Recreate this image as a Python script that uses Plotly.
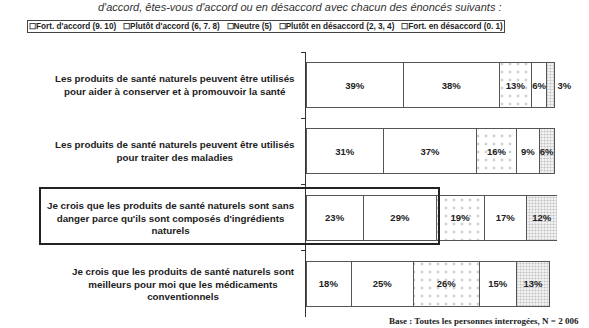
import plotly.graph_objects as go

categories = [
    "Les produits de santé naturels peuvent être utilisés<br>pour aider à conserver et à promouvoir la santé",
    "Les produits de santé naturels peuvent être utilisés<br>pour traiter des maladies",
    "Je crois que les produits de santé naturels sont sans<br>danger parce qu'ils sont composés d'ingrédients<br>naturels",
    "Je crois que les produits de santé naturels sont<br>meilleurs pour moi que les médicaments<br>conventionnels",
]
cat_ids = ["c1", "c2", "c3", "c4"]
series_names = [
    "Fort. d'accord (9. 10)",
    "Plutôt d'accord (6, 7. 8)",
    "Neutre (5)",
    "Plutôt en désaccord (2, 3, 4)",
    "Fort. en désaccord (0. 1)",
]
fort_accord = [39, 31, 23, 18]
plutot_accord = [38, 37, 29, 25]
neutre = [13, 16, 19, 26]
plutot_desaccord = [6, 9, 17, 15]
fort_desaccord = [3, 6, 12, 13]
series_values = [fort_accord, plutot_accord, neutre, plutot_desaccord, fort_desaccord]

patterns = [
    dict(shape=""),
    dict(shape=""),
    dict(shape=".", fgcolor="#a0a0a0", bgcolor="white", size=8, solidity=0.1),
    dict(shape=""),
    dict(shape=".", fgcolor="#8a8a8a", bgcolor="#f6f6f6", size=3, solidity=0.4),
]

W, H = 589, 328
x0px, x100px = 306, 557
ytop, ybot = 52, 317
FONT = "Liberation Sans, Arial"

fig = go.Figure()
for i, (name, vals, pat) in enumerate(zip(series_names, series_values, patterns)):
    if i == len(series_names) - 1:
        tpos = ["outside" if v < 5 else "inside" for v in vals]
    else:
        tpos = "inside"
    fig.add_trace(go.Bar(
        y=cat_ids, x=vals, orientation="h", name=name,
        marker=dict(color="white", line=dict(color="#555555", width=1), pattern=pat),
        text=[f"<b>{v}%</b>" for v in vals], textposition=tpos,
        insidetextanchor="middle", textangle=0, cliponaxis=False,
        textfont=dict(family=FONT, size=9.5, color="#222222"),
        showlegend=False,
    ))

fig.update_layout(
    width=W, height=H, barmode="stack", bargap=0.32,
    margin=dict(l=0, r=0, t=0, b=0),
    paper_bgcolor="white", plot_bgcolor="white",
    uniformtext=dict(minsize=9.5, mode="show"),
    xaxis=dict(domain=[x0px / W, x100px / W], range=[0, 100], visible=False),
    yaxis=dict(domain=[1 - ybot / H, 1 - ytop / H], range=[3.5, -0.5],
               categoryorder="array", categoryarray=cat_ids,
               showticklabels=False, ticks="outside", tickson="boundaries",
               ticklen=4, tickcolor="#333", showline=True, linecolor="#333",
               linewidth=1, showgrid=False, zeroline=False),
)

# category labels
for cid, lab in zip(cat_ids, categories):
    fig.add_annotation(x=297 / W, xref="paper", xanchor="right", y=cid, yref="y",
                       text=f"<b>{lab}</b>", showarrow=False, align="center",
                       font=dict(family=FONT, size=9.8, color="#222"))

# boxed highlight around third statement
fig.add_shape(type="rect", xref="paper", yref="paper",
              x0=40 / W, x1=439 / W, y0=1 - 244 / H, y1=1 - 188 / H,
              line=dict(color="#222", width=2), fillcolor="rgba(0,0,0,0)")

# legend as boxed text
gap = "\u00a0" * 3
legend_text = gap.join("\u2610" + n for n in series_names)
fig.add_annotation(x=27 / W, xref="paper", xanchor="left", y=1 - 26.5 / H, yref="paper",
                   yanchor="middle", text=f"<b>{legend_text}</b>", showarrow=False,
                   font=dict(family=FONT, size=8.2, color="#222"),
                   bordercolor="#444", borderwidth=1, borderpad=1, bgcolor="white")

# question text at top
fig.add_annotation(x=300 / W, xref="paper", xanchor="center", y=1 - 7 / H, yref="paper",
                   yanchor="middle",
                   text="<i>d'accord, êtes-vous d'accord ou en désaccord avec chacun des énoncés suivants :</i>",
                   showarrow=False, font=dict(family=FONT, size=11, color="#333"))

# base note bottom right
fig.add_annotation(x=387 / W, xref="paper", xanchor="left", y=1 - 321 / H, yref="paper",
                   yanchor="middle", text="<b>Base : Toutes les personnes interrogées, N = 2 006</b>",
                   showarrow=False, font=dict(family="Liberation Serif, Times New Roman", size=9, color="#222"))

fig.write_html("out.html")
